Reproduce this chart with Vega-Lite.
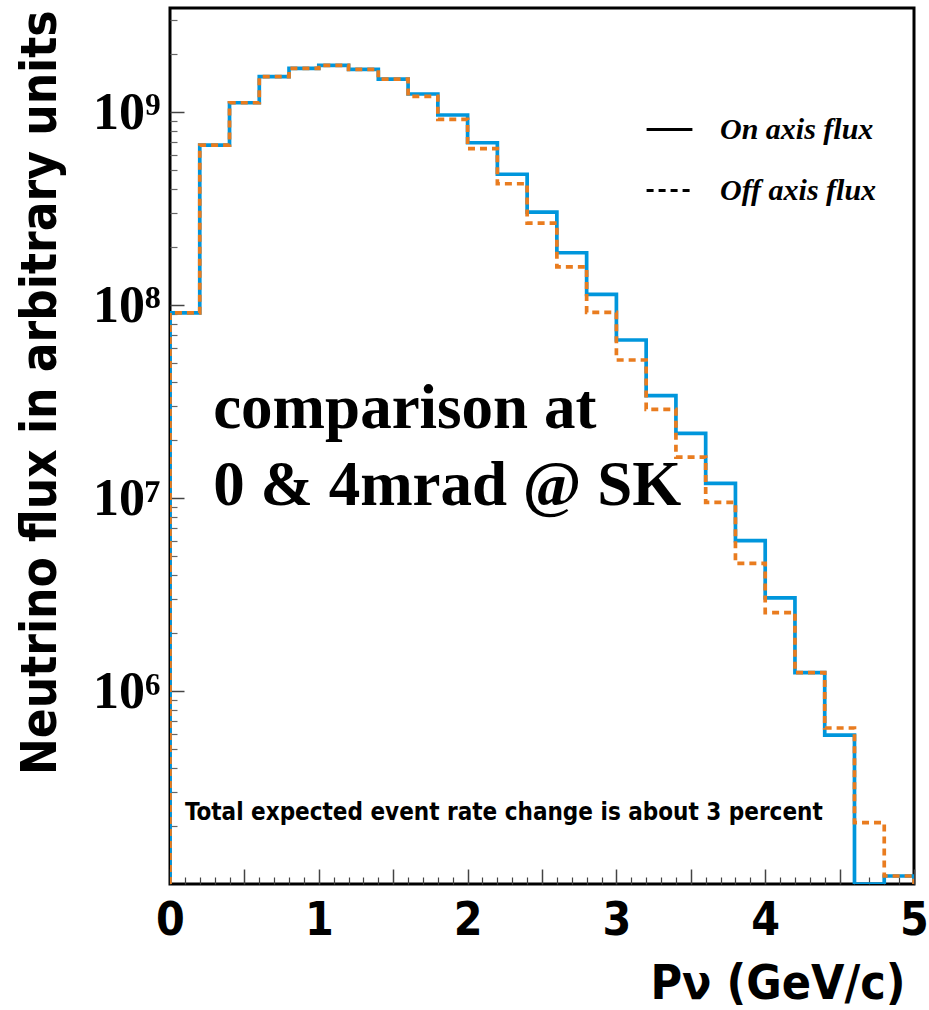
{
  "$schema": "https://vega.github.io/schema/vega-lite/v6.json",
  "width": 744,
  "height": 876,
  "autosize": {"type": "none"},
  "padding": {"left": 170, "top": 8, "right": 15, "bottom": 126},
  "background": "white",
  "config": {
    "view": {"stroke": "black", "strokeWidth": 3},
    "axis": {"grid": false, "domain": false}
  },
  "datasets": {
    "flux": [
      {"i": 0, "series": "On axis flux", "p": 0.0, "flux": 1e5},
      {"i": 1, "series": "On axis flux", "p": 0.0, "flux": 9.1e7},
      {"i": 2, "series": "On axis flux", "p": 0.2, "flux": 6.74e8},
      {"i": 3, "series": "On axis flux", "p": 0.4, "flux": 1.117e9},
      {"i": 4, "series": "On axis flux", "p": 0.6, "flux": 1.524e9},
      {"i": 5, "series": "On axis flux", "p": 0.8, "flux": 1.683e9},
      {"i": 6, "series": "On axis flux", "p": 1.0, "flux": 1.746e9},
      {"i": 7, "series": "On axis flux", "p": 1.2, "flux": 1.664e9},
      {"i": 8, "series": "On axis flux", "p": 1.4, "flux": 1.482e9},
      {"i": 9, "series": "On axis flux", "p": 1.6, "flux": 1.24e9},
      {"i": 10, "series": "On axis flux", "p": 1.8, "flux": 9.65e8},
      {"i": 11, "series": "On axis flux", "p": 2.0, "flux": 6.93e8},
      {"i": 12, "series": "On axis flux", "p": 2.2, "flux": 4.76e8},
      {"i": 13, "series": "On axis flux", "p": 2.4, "flux": 3.03e8},
      {"i": 14, "series": "On axis flux", "p": 2.6, "flux": 1.866e8},
      {"i": 15, "series": "On axis flux", "p": 2.8, "flux": 1.135e8},
      {"i": 16, "series": "On axis flux", "p": 3.0, "flux": 6.59e7},
      {"i": 17, "series": "On axis flux", "p": 3.2, "flux": 3.39e7},
      {"i": 18, "series": "On axis flux", "p": 3.4, "flux": 2.16e7},
      {"i": 19, "series": "On axis flux", "p": 3.6, "flux": 1.19e7},
      {"i": 20, "series": "On axis flux", "p": 3.8, "flux": 6.01e6},
      {"i": 21, "series": "On axis flux", "p": 4.0, "flux": 3.04e6},
      {"i": 22, "series": "On axis flux", "p": 4.2, "flux": 1.245e6},
      {"i": 23, "series": "On axis flux", "p": 4.4, "flux": 5.91e5},
      {"i": 24, "series": "On axis flux", "p": 4.6, "flux": 1e5},
      {"i": 25, "series": "On axis flux", "p": 4.8, "flux": 1.1e5},
      {"i": 26, "series": "On axis flux", "p": 5.0, "flux": 1.1e5},
      {"i": 27, "series": "On axis flux", "p": 5.0, "flux": 1e5},
      {"i": 0, "series": "Off axis flux", "p": 0.0, "flux": 1e5},
      {"i": 1, "series": "Off axis flux", "p": 0.0, "flux": 9.1e7},
      {"i": 2, "series": "Off axis flux", "p": 0.2, "flux": 6.74e8},
      {"i": 3, "series": "Off axis flux", "p": 0.4, "flux": 1.117e9},
      {"i": 4, "series": "Off axis flux", "p": 0.6, "flux": 1.524e9},
      {"i": 5, "series": "Off axis flux", "p": 0.8, "flux": 1.683e9},
      {"i": 6, "series": "Off axis flux", "p": 1.0, "flux": 1.746e9},
      {"i": 7, "series": "Off axis flux", "p": 1.2, "flux": 1.664e9},
      {"i": 8, "series": "Off axis flux", "p": 1.4, "flux": 1.482e9},
      {"i": 9, "series": "Off axis flux", "p": 1.6, "flux": 1.206e9},
      {"i": 10, "series": "Off axis flux", "p": 1.8, "flux": 9.16e8},
      {"i": 11, "series": "Off axis flux", "p": 2.0, "flux": 6.46e8},
      {"i": 12, "series": "Off axis flux", "p": 2.2, "flux": 4.25e8},
      {"i": 13, "series": "Off axis flux", "p": 2.4, "flux": 2.66e8},
      {"i": 14, "series": "Off axis flux", "p": 2.6, "flux": 1.578e8},
      {"i": 15, "series": "Off axis flux", "p": 2.8, "flux": 9.16e7},
      {"i": 16, "series": "Off axis flux", "p": 3.0, "flux": 5.19e7},
      {"i": 17, "series": "Off axis flux", "p": 3.2, "flux": 2.88e7},
      {"i": 18, "series": "Off axis flux", "p": 3.4, "flux": 1.63e7},
      {"i": 19, "series": "Off axis flux", "p": 3.6, "flux": 9.5e6},
      {"i": 20, "series": "Off axis flux", "p": 3.8, "flux": 4.59e6},
      {"i": 21, "series": "Off axis flux", "p": 4.0, "flux": 2.55e6},
      {"i": 22, "series": "Off axis flux", "p": 4.2, "flux": 1.245e6},
      {"i": 23, "series": "Off axis flux", "p": 4.4, "flux": 6.43e5},
      {"i": 24, "series": "Off axis flux", "p": 4.6, "flux": 2.08e5},
      {"i": 25, "series": "Off axis flux", "p": 4.8, "flux": 1.1e5},
      {"i": 26, "series": "Off axis flux", "p": 5.0, "flux": 1.1e5},
      {"i": 27, "series": "Off axis flux", "p": 5.0, "flux": 1e5}
    ],
    "notes": [
      {"p": 0.29, "flux": 2.3e7, "text": "comparison at"},
      {"p": 0.29, "flux": 9.2e6, "text": "0 & 4mrad @ SK"}
    ],
    "footnote": [
      {"p": 0.1, "flux": 2.15e5, "text": "Total expected event rate change is about 3 percent"}
    ]
  },
  "layer": [
    {
      "data": {"name": "flux"},
      "mark": {"type": "line", "interpolate": "step-after", "strokeWidth": 3.7, "clip": true},
      "encoding": {
        "x": {
          "field": "p", "type": "quantitative",
          "scale": {"domain": [0, 5], "nice": false, "zero": false},
          "axis": {
            "orient": "bottom", "values": [0, 1, 2, 3, 4, 5], "format": "d", "ticks": false,
            "labelFont": "DejaVu Sans Condensed, Liberation Sans",
            "labelFontWeight": "bold", "labelFontSize": 46, "labelColor": "black",
            "labelBaseline": "middle", "labelPadding": 36, "labelFlush": false,
            "title": "Pν (GeV/c)",
            "titleFont": "DejaVu Sans Condensed, Liberation Sans",
            "titleFontWeight": "bold", "titleFontSize": 48, "titleColor": "black",
            "titleAnchor": "end", "titleAlign": "right", "titleX": 735, "titleY": 100, "titleBaseline": "middle"
          }
        },
        "y": {
          "field": "flux", "type": "quantitative",
          "scale": {"type": "log", "domain": [100000, 3460000000], "nice": false},
          "axis": {
            "orient": "left", "values": [1000000, 10000000, 100000000, 1000000000], "ticks": false,
            "labelExpr": "'10' + ['⁰','¹','²','³','⁴','⁵','⁶','⁷','⁸','⁹'][round(log(datum.value)/LN10)]",
            "labelFont": "Liberation Serif", "labelFontWeight": "bold", "labelFontSize": 52,
            "labelColor": "black", "labelPadding": 10, "labelBaseline": "middle",
            "title": "Neutrino flux in arbitrary units",
            "titleFont": "DejaVu Sans Condensed, Liberation Sans",
            "titleFontWeight": "bold", "titleFontSize": 49, "titleColor": "black",
            "titleAngle": -90, "titleAlign": "right", "titleBaseline": "middle",
            "titleX": -130, "titleY": 2
          }
        },
        "order": {"field": "i", "type": "quantitative"},
        "color": {
          "field": "series", "type": "nominal",
          "scale": {"range": ["#E97C1F", "#0096DC"]},
          "legend": null
        },
        "strokeDash": {
          "field": "series", "type": "nominal",
          "scale": {"domain": ["On axis flux", "Off axis flux"], "range": [[1, 0], [7, 5]]},
          "legend": {
            "title": null, "orient": "none", "legendX": 475, "legendY": 97,
            "symbolType": "stroke", "symbolStrokeWidth": 3, "symbolStrokeColor": "black",
            "symbolSize": 2100, "labelFont": "Liberation Serif", "labelFontStyle": "italic",
            "labelFontWeight": "bold", "labelFontSize": 30, "labelColor": "black",
            "labelLimit": 400, "labelOffset": 26, "rowPadding": 21
          }
        }
      }
    },
    {
      "data": {"name": "notes"},
      "mark": {"type": "text", "font": "Liberation Serif", "fontWeight": "bold", "fontSize": 63, "align": "left", "baseline": "alphabetic", "color": "black"},
      "encoding": {
        "x": {"field": "p", "type": "quantitative",
          "axis": {"orient": "bottom", "values": [0, 0.5, 1, 1.5, 2, 2.5, 3, 3.5, 4, 4.5, 5], "labels": false, "title": null,
            "tickSize": -15, "tickColor": "#444", "tickWidth": 1.5}},
        "y": {"field": "flux", "type": "quantitative",
          "axis": {"orient": "left", "values": [1000000, 10000000, 100000000, 1000000000], "labels": false, "title": null,
            "tickSize": -14, "tickColor": "#444", "tickWidth": 1.5}},
        "text": {"field": "text"}
      }
    },
    {
      "data": {"name": "footnote"},
      "mark": {"type": "text", "font": "DejaVu Sans Condensed, Liberation Sans", "fontWeight": "bold", "fontSize": 24, "align": "left", "baseline": "alphabetic", "color": "black"},
      "encoding": {
        "x": {"field": "p", "type": "quantitative",
          "axis": {"orient": "bottom", "values": [0.1,0.2,0.3,0.4,0.6,0.7,0.8,0.9,1.1,1.2,1.3,1.4,1.6,1.7,1.8,1.9,2.1,2.2,2.3,2.4,2.6,2.7,2.8,2.9,3.1,3.2,3.3,3.4,3.6,3.7,3.8,3.9,4.1,4.2,4.3,4.4,4.6,4.7,4.8,4.9], "labels": false, "title": null,
            "tickSize": -7, "tickColor": "#444", "tickWidth": 1.2}},
        "y": {"field": "flux", "type": "quantitative",
          "axis": {"orient": "left", "values": [200000,300000,400000,500000,600000,700000,800000,900000,2000000,3000000,4000000,5000000,6000000,7000000,8000000,9000000,20000000,30000000,40000000,50000000,60000000,70000000,80000000,90000000,200000000,300000000,400000000,500000000,600000000,700000000,800000000,900000000,2000000000,3000000000], "labels": false, "title": null,
            "tickSize": -7, "tickColor": "#666", "tickWidth": 1.2}},
        "text": {"field": "text"}
      }
    }
  ],
  "resolve": {"axis": {"x": "independent", "y": "independent"}}
}
